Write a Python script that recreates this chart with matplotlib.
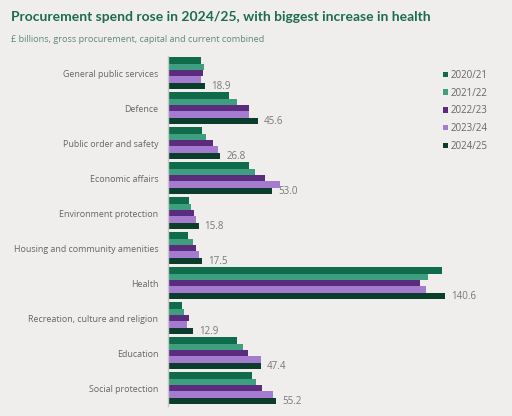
import matplotlib
matplotlib.use("Agg")
import matplotlib.pyplot as plt
from matplotlib.patches import Patch
import numpy as np

categories = ["General public services", "Defence", "Public order and safety",
              "Economic affairs", "Environment protection",
              "Housing and community amenities", "Health",
              "Recreation, culture and religion", "Education", "Social protection"]
years = ["2020/21", "2021/22", "2022/23", "2023/24", "2024/25"]
v2020 = [17.1, 31.0, 17.6, 41.3, 10.9, 10.5, 138.9, 7.3, 35.4, 42.6]
v2021 = [18.7, 35.4, 19.5, 44.3, 11.7, 12.7, 132.1, 8.4, 38.4, 44.7]
v2022 = [17.8, 41.4, 22.9, 49.4, 13.3, 14.3, 127.9, 10.7, 40.9, 47.9]
v2023 = [17.0, 41.4, 25.7, 57.1, 14.4, 16.1, 130.9, 10.0, 47.4, 53.3]
v2024 = [18.9, 45.6, 26.8, 53.0, 15.8, 17.5, 140.6, 12.9, 47.4, 55.2]
series = [v2020, v2021, v2022, v2023, v2024]
colors = ["#0f6b4a", "#3d9e80", "#5b2c7e", "#a57bd0", "#0a3d2b"]

bg = "#efeeec"
fig = plt.figure(figsize=(5.12, 4.16), dpi=100, facecolor=bg)
W, H = 512, 416
ax = fig.add_axes([167.5 / W, (H - 405.8) / H, 300 / W, 350 / H])
ax.set_facecolor(bg)

y = np.arange(len(categories))
bh = 0.182
for k, (vals, c) in enumerate(zip(series, colors)):
    off = (k - 2) * bh
    ax.barh(y + off, vals, height=bh, color=c, label=years[k])

for i, v in enumerate(v2024):
    ax.text(v + 3.0, y[i] + 2 * bh, f"{v:.1f}", va="center", ha="left",
            fontsize=7, color="#777777", family="Open Sans")

ax.set_ylim(9.5, -0.5)
ax.set_xlim(0, 152)
ax.set_yticks(y)
ax.set_yticklabels(categories, fontsize=6.4, color="#666666", family="Open Sans")
ax.tick_params(axis="y", length=0, pad=6.5)
ax.set_xticks([])
for s in ["top", "right", "bottom"]:
    ax.spines[s].set_visible(False)
ax.spines["left"].set_color("#c8c8c8")
ax.spines["left"].set_linewidth(1)

handles = [Patch(facecolor=c, edgecolor="none") for c in colors]
fig.legend(handles, years, loc="upper left", bbox_to_anchor=(434 / W, 1 - 61 / H),
           frameon=False, handlelength=0.5, handleheight=0.5, handletextpad=0.35,
           labelspacing=0.7, prop={"family": "Open Sans", "size": 7},
           labelcolor="#666666")

fig.text(11 / W, 1 - 17 / H, "Procurement spend rose in 2024/25, with biggest increase in health",
         fontsize=10, fontweight="bold", color="#1d6b50", family="Lato", va="center")
fig.text(11 / W, 1 - 39 / H, "£ billions, gross procurement, capital and current combined",
         fontsize=6.6, color="#5f8a78", family="Open Sans", va="center")

fig.savefig("out.png", dpi=100, facecolor=bg)
